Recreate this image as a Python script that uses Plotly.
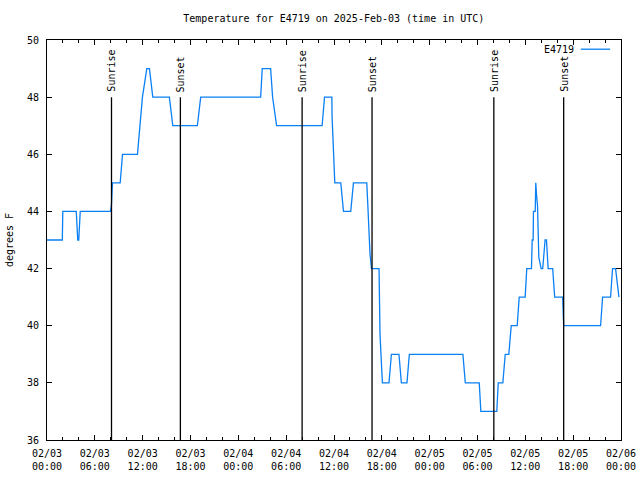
import pandas as pd
import plotly.graph_objects as go

# ---- data ----
station = "E4719"
start_date = "2025-02-03 00:00"
# hours since start (UTC)
hours = [0.00, 1.92, 1.98, 3.67, 3.86, 3.98, 4.17, 7.96, 8.09, 8.21, 9.18, 9.47,
         11.35, 11.66, 11.97, 12.52, 12.85, 13.27, 15.35, 15.78, 18.86, 19.28,
         26.80, 27.00, 28.05, 28.30, 28.80, 34.51, 34.81, 35.73, 35.76, 36.10,
         36.85, 37.19, 38.10, 38.44, 40.11, 40.23, 40.36, 40.52, 40.70, 41.65,
         41.77, 41.95, 42.07, 42.90, 43.20, 44.15, 44.45, 45.15, 45.45, 52.17,
         52.47, 54.22, 54.42, 56.42, 56.60, 57.18, 57.48, 57.93, 58.23, 58.98,
         59.23, 59.98, 60.18, 60.77, 60.86, 60.98, 61.02, 61.24, 61.31, 61.40,
         61.53, 61.69, 61.98, 62.18, 62.48, 62.65, 62.86, 63.43, 63.68, 64.68,
         64.81, 69.44, 69.69, 70.69, 70.94, 71.32, 71.57, 71.74]
temps_f = [43, 43, 44, 44, 43, 43, 44, 44, 44.25, 45, 45, 46,
           46, 47, 48, 49, 49, 48, 48, 47, 47, 48,
           48, 49, 49, 48, 47, 47, 48, 48, 47.3, 45,
           45, 44, 44, 45, 45, 44.3, 43.5, 42.5, 42, 42,
           39.7, 38.7, 38, 38, 39, 39, 38, 38, 39, 39,
           38, 38, 37, 37, 38, 38, 39, 39, 40, 40,
           41, 41, 42, 42, 43, 43, 44, 44, 45, 44.6,
           44.2, 42.4, 42, 42, 43, 43, 42, 42, 41, 41,
           40, 40, 41, 41, 42, 42, 41.5, 41]

event_names = ["Sunrise", "Sunset", "Sunrise", "Sunset", "Sunrise", "Sunset"]
event_hours = [8.09, 16.73, 32.00, 40.77, 56.05, 64.81]

y_range = [36, 50]
event_top = 48
x_span_hours = 72

# ---- build ----
t0 = pd.Timestamp(start_date)
times = [t0 + pd.Timedelta(hours=h) for h in hours]
event_times = [t0 + pd.Timedelta(hours=h) for h in event_hours]
t_end = t0 + pd.Timedelta(hours=x_span_hours)

FONT = "DejaVu Sans Mono"
BLUE = "#0a80f5"

fig = go.Figure()
fig.add_trace(go.Scatter(x=times, y=temps_f, mode="lines", name=station,
                         line=dict(color=BLUE, width=1.3), showlegend=False))

for name, t in zip(event_names, event_times):
    fig.add_shape(type="line", xref="x", yref="y", x0=t, x1=t,
                  y0=y_range[0], y1=event_top,
                  line=dict(color="black", width=1.3))
    fig.add_annotation(x=t, y=event_top, xref="x", yref="y", text=name,
                       textangle=-90, showarrow=False, yanchor="bottom",
                       xanchor="center", yshift=3,
                       font=dict(family=FONT, size=10, color="black"))

# manual legend (text then line sample, gnuplot style)
fig.add_annotation(x=0.921, y=0.977, xref="paper", yref="paper", text=station,
                   showarrow=False, xanchor="right", yanchor="middle",
                   font=dict(family=FONT, size=10, color="black"))
fig.add_shape(type="line", xref="paper", yref="paper", x0=0.930, x1=0.981,
              y0=0.977, y1=0.977, line=dict(color=BLUE, width=1.3))

fig.update_layout(
    width=640, height=480,
    margin=dict(l=47, r=19, t=40, b=40, autoexpand=False),
    paper_bgcolor="white", plot_bgcolor="white",
    font=dict(family=FONT, size=10, color="black"),
    title=dict(text=f"Temperature for {station} on 2025-Feb-03 (time in UTC)",
               x=0.5216, xanchor="center", y=0.962, yanchor="middle",
               font=dict(family=FONT, size=10, color="black")),
    showlegend=False,
)
fig.update_xaxes(
    range=[t0, t_end], type="date", automargin=False,
    tick0=t0, dtick=6 * 3600 * 1000, tickformat="%m/%d<br>%H:%M",
    ticks="inside", ticklen=5, tickcolor="black", tickwidth=1,
    ticklabelstandoff=4,
    minor=dict(dtick=2 * 3600 * 1000, ticks="inside", ticklen=3,
               tickcolor="black", showgrid=False),
    showline=True, linecolor="black", linewidth=1, mirror="ticks",
    showgrid=False, zeroline=False,
    tickfont=dict(family=FONT, size=10, color="black"),
)
fig.update_yaxes(
    range=y_range, dtick=2, tick0=36, automargin=False,
    ticks="inside", ticklen=5, tickcolor="black", tickwidth=1,
    ticklabelstandoff=5,
    showline=True, linecolor="black", linewidth=1, mirror="ticks",
    showgrid=False, zeroline=False,
    title=dict(text="degrees F", standoff=11,
               font=dict(family=FONT, size=10, color="black")),
    tickfont=dict(family=FONT, size=10, color="black"),
)

fig.write_html("out.html", config={"displayModeBar": False},
               post_script="document.body.style.margin='0';"
                           "document.body.style.overflow='hidden';")
